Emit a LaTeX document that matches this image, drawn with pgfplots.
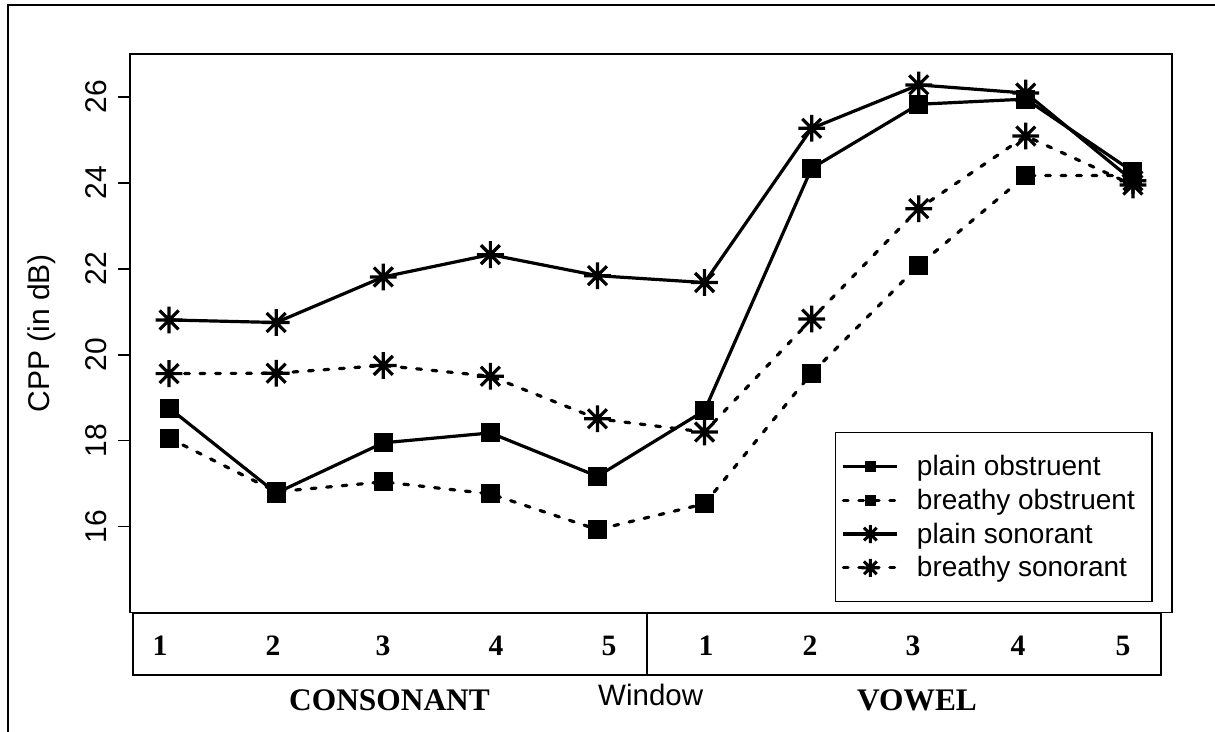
\documentclass[border=0pt]{standalone}
\usepackage{pgfplots}
\pgfplotsset{compat=1.18}
\usepackage{fontspec}
\setmainfont{Liberation Sans}
\newfontfamily\timesfont{Liberation Serif}

\pgfdeclareplotmark{rstar}{%
  \pgfpathmoveto{\pgfqpoint{0pt}{\pgfplotmarksize}}%
  \pgfpathlineto{\pgfqpoint{0pt}{-\pgfplotmarksize}}%
  \pgfpathmoveto{\pgfqpoint{\pgfplotmarksize}{0pt}}%
  \pgfpathlineto{\pgfqpoint{-\pgfplotmarksize}{0pt}}%
  \pgfpathmoveto{\pgfqpoint{0.7071\pgfplotmarksize}{0.7071\pgfplotmarksize}}%
  \pgfpathlineto{\pgfqpoint{-0.7071\pgfplotmarksize}{-0.7071\pgfplotmarksize}}%
  \pgfpathmoveto{\pgfqpoint{0.7071\pgfplotmarksize}{-0.7071\pgfplotmarksize}}%
  \pgfpathlineto{\pgfqpoint{-0.7071\pgfplotmarksize}{0.7071\pgfplotmarksize}}%
  \pgfusepathqstroke}

\begin{document}
\begin{tikzpicture}[x=1pt,y=1pt]
\useasboundingbox (0,0) rectangle (607.5,-366);
\draw[line width=1pt] (4.15,-366) -- (4.15,-2.5) -- (607.5,-2.5);
\begin{axis}[
  at={(65pt,-306.25pt)}, anchor=south west,
  scale only axis, width=521pt, height=279.25pt,
  xmin=0.635, xmax=10.365, ymin=14, ymax=27,
  xtick=\empty,
  ytick={16,18,20,22,24,26},
  tick align=outside, major tick length=6pt,
  ytick pos=left,
  axis line style={line width=0.8pt},
  tick style={line width=0.8pt, black},
  yticklabel shift=5.5pt,
  yticklabel style={rotate=90, anchor=south, inner sep=0pt, font=\fontsize{15}{18}\selectfont},
  /pgf/number format/assume math mode=true,
  ylabel={CPP (in dB)},
  ylabel style={at={(axis description cs:-0.0845,0.5)}, anchor=center, font=\fontsize{15}{18}\selectfont},
  legend image code/.code={\draw[mark repeat=2,mark phase=2,#1] plot coordinates {(0pt,0pt) (13.5pt,0pt) (27pt,0pt)};},
  legend style={at={(rel axis cs:0.6766,0.3232)}, anchor=north west, draw=black, line width=0.7pt,
    inner xsep=3pt, inner ysep=10.5pt, row sep=3.85pt, font=\fontsize{14}{16}\selectfont,
    nodes={inner sep=0pt, text height=11pt, text depth=2pt},
    /tikz/every odd column/.append style={column sep=9pt}},
  legend cell align=left,
  clip=false,
]
% plain obstruent
\addplot[forget plot, black, line width=1.6pt, mark=square*, mark size=4.5pt, mark options={solid, line width=0.5pt}]
  coordinates {(1,18.76) (2,16.78) (3,17.95) (4,18.18) (5,17.17) (6,18.70) (7,24.34) (8,25.83) (9,25.95) (10,24.26)};
% breathy obstruent
\addplot[forget plot, black, line width=1.6pt, dash pattern=on 2.4pt off 5.35pt, line cap=round, mark=square*, mark size=4.5pt, mark options={solid, line width=0.5pt, line cap=butt}]
  coordinates {(1,18.06) (2,16.81) (3,17.04) (4,16.76) (5,15.93) (6,16.53) (7,19.57) (8,22.08) (9,24.17) (10,24.17)};
% plain sonorant
\addplot[forget plot, black, line width=1.6pt, mark=rstar, mark size=6.7pt, mark options={solid, line width=1.6pt, line cap=butt}]
  coordinates {(1,20.81) (2,20.75) (3,21.81) (4,22.33) (5,21.84) (6,21.68) (7,25.27) (8,26.28) (9,26.09) (10,24.05)};
% breathy sonorant
\addplot[forget plot, black, line width=1.6pt, dash pattern=on 2.4pt off 5.35pt, line cap=round, mark=rstar, mark size=6.7pt, mark options={solid, line width=1.6pt, line cap=butt}]
  coordinates {(1,19.56) (2,19.57) (3,19.75) (4,19.50) (5,18.51) (6,18.20) (7,20.83) (8,23.40) (9,25.09) (10,23.95)};

\addlegendimage{black, line width=1.6pt, mark=square*, mark size=2.5pt, mark options={solid, line width=0.5pt}}
\addlegendentry{plain obstruent}
\addlegendimage{black, line width=1.6pt, dash pattern=on 2.4pt off 5.35pt, line cap=round, mark=square*, mark size=2.5pt, mark options={solid, line width=0.5pt, line cap=butt}}
\addlegendentry{breathy obstruent\rule{5.5pt}{0pt}}
\addlegendimage{black, line width=1.6pt, mark=rstar, mark size=4.5pt, mark options={solid, line width=1.5pt, line cap=butt}}
\addlegendentry{plain sonorant}
\addlegendimage{black, line width=1.6pt, dash pattern=on 2.4pt off 5.35pt, line cap=round, mark=rstar, mark size=4.5pt, mark options={solid, line width=1.5pt, line cap=butt}}
\addlegendentry{breathy sonorant}
\end{axis}

\draw[line width=0.8pt] (66.5,-306.5) rectangle (580.5,-337.5);
\draw[line width=0.8pt] (323.5,-306.5) -- (323.5,-337.5);
\foreach \xx/\lab in {80/1,136.5/2,191.5/3,248/4,304.5/5,353/1,405/2,456.5/3,509/4,561.5/5}{
  \node[anchor=base, inner sep=0pt, font=\timesfont\bfseries\fontsize{14.8}{16}\selectfont] at (\xx,-327.5) {\lab};
}
\node[anchor=base, inner sep=0pt, font=\timesfont\bfseries\fontsize{15.7}{18}\selectfont] at (194.75,-355) {CONSONANT};
\node[anchor=base, inner sep=0pt, font=\timesfont\bfseries\fontsize{15.7}{18}\selectfont] at (458.5,-355) {VOWEL};
\node[anchor=base, inner sep=0pt, font=\fontsize{14.75}{17}\selectfont] at (325.35,-352.5) {Window};
\end{tikzpicture}
\end{document}
